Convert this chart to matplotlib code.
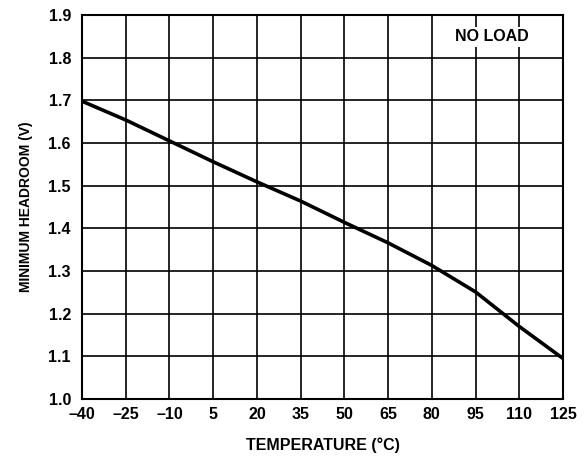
import matplotlib
matplotlib.use("Agg")
import matplotlib.pyplot as plt

plt.rcParams["font.family"] = ["Liberation Sans", "DejaVu Sans"]
plt.rcParams["font.weight"] = "bold"

# temperature (C) vs minimum headroom (V), no load
temps = [-40, -25, -10, 5, 20, 35, 50, 65, 80, 95, 110, 125]
headroom = [1.698, 1.654, 1.605, 1.556, 1.509, 1.464, 1.414, 1.366, 1.313, 1.251, 1.170, 1.095]

x_ticks = [-40, -25, -10, 5, 20, 35, 50, 65, 80, 95, 110, 125]
x_labels = ["\u201340", "\u201325", "\u201310", "5", "20", "35", "50", "65", "80", "95", "110", "125"]
y_ticks = [1.0, 1.1, 1.2, 1.3, 1.4, 1.5, 1.6, 1.7, 1.8, 1.9]

fig = plt.figure(figsize=(5.84, 4.59), dpi=100)
ax = fig.add_axes([0.1404, 0.1307, 0.8236, 0.8366])

ax.plot(temps, headroom, color="black", lw=2.6, solid_capstyle="butt",
        solid_joinstyle="round", zorder=3)

ax.set_xlim(-40, 125)
ax.set_ylim(1.0, 1.9)
ax.set_xticks(x_ticks)
ax.set_xticklabels(x_labels)
ax.set_yticks(y_ticks)
ax.set_yticklabels([f"{v:.1f}" for v in y_ticks])
ax.tick_params(length=0, labelsize=11.5, pad=6)
ax.tick_params(axis="y", pad=8)
ax.grid(True, color="black", lw=1.2)
for s in ax.spines.values():
    s.set_linewidth(1.5)

ax.set_xlabel("TEMPERATURE (\u00b0C)", fontsize=11.5, fontweight="bold", labelpad=11)
ax.set_ylabel("MINIMUM HEADROOM (V)", fontsize=10, fontweight="bold", labelpad=11)

ax.text(0.852, 0.943, "NO LOAD", transform=ax.transAxes, ha="center", va="center",
        fontsize=11.5, fontweight="bold", zorder=4,
        bbox=dict(facecolor="white", edgecolor="none", pad=2))

fig.savefig("out.png", dpi=100)
